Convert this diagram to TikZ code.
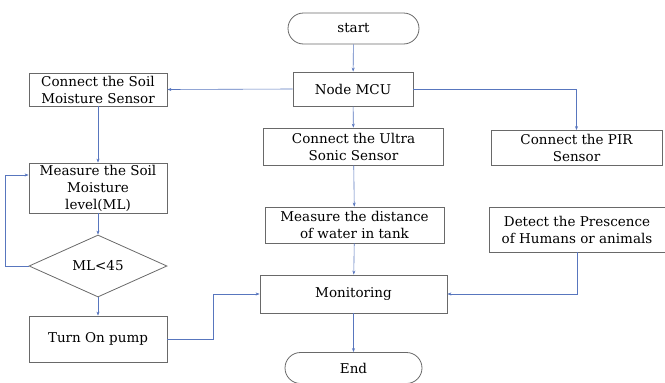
\documentclass[tikz,border=0pt]{standalone}
\usepackage{fontspec}
\setmainfont{DejaVu Serif}
\usepackage{tikz}
\usetikzlibrary{shapes.geometric,shapes.misc,arrows.meta}
\definecolor{flowblue}{RGB}{88,118,190}
\definecolor{boxgray}{RGB}{105,105,105}
\newcommand\flowtext{\fontsize{13.5}{17}\selectfont}
\tikzset{
procbox/.style={rectangle, draw=boxgray, fill=none, line width=0.8pt, inner sep=0pt, align=center, font=\flowtext},
termbox/.style={rounded rectangle, draw=boxgray, fill=none, line width=0.8pt, inner sep=0pt, font=\flowtext, minimum width=131pt, minimum height=31pt},
decbox/.style={diamond, draw=boxgray, fill=none, line width=0.8pt, inner sep=0pt, font=\flowtext, minimum width=138pt, minimum height=62pt},
flowarrow/.style={draw=flowblue, line width=0.6pt, -{Stealth[length=4pt,width=3pt]}},
}
\begin{document}
\begin{tikzpicture}[x=1pt,y=-1pt]
\useasboundingbox (0,0) rectangle (665,383);
\node[termbox] at (353.5,28.5) (start) {start};
\node[procbox, minimum width=120pt, minimum height=34pt] at (353,89) (mcu) {Node MCU};
\node[procbox, minimum width=138pt, minimum height=33pt] at (98,89.5) (soil) {Connect the Soil\\Moisture Sensor};
\node[procbox, minimum width=180pt, minimum height=37pt] at (353.5,146.5) (ultra) {Connect the Ultra\\Sonic Sensor};
\node[procbox, minimum width=171pt, minimum height=35pt] at (576.5,148) (pir) {Connect the PIR\\Sensor};
\node[procbox, minimum width=138pt, minimum height=50pt] at (98,188) (soilml) {Measure the Soil\\Moisture\\level(ML)};
\node[decbox] at (98,266) (cmp) {ML<45};
\node[procbox, minimum width=138pt, minimum height=46pt] at (98,339) (pump) {Turn On pump};
\node[procbox, minimum width=179pt, minimum height=36pt] at (354.5,225) (dist) {Measure the distance\\of water in tank};
\node[procbox, minimum width=176pt, minimum height=45pt] at (577,229.5) (det) {Detect the Prescence\\of Humans or animals};
\node[procbox, minimum width=187pt, minimum height=38pt] at (353.5,294) (mon) {Monitoring};
\node[termbox, minimum width=137pt] at (353.5,368) (stop) {End};

\draw[flowarrow] (start) -- (mcu);
\draw[flowarrow] (mcu.west) -- (soil.east);
\draw[flowarrow] (mcu.east) -| (pir.north);
\draw[flowarrow] (mcu) -- (ultra);
\draw[flowarrow] (ultra) -- (dist);
\draw[flowarrow] (dist) -- (mon);
\draw[flowarrow] (mon) -- (stop);
\draw[flowarrow] (soil) -- (soilml);
\draw[flowarrow] (soilml) -- (cmp);
\draw[flowarrow] (cmp) -- (pump);
\draw[flowarrow] (cmp.west) -- ++(-23,0) |- ([yshift=13pt]soilml.west);
\draw[flowarrow] (pump.east) -- ++(46,0) |- (mon.west);
\draw[flowarrow] (det.south) |- (mon.east);
\end{tikzpicture}
\end{document}
